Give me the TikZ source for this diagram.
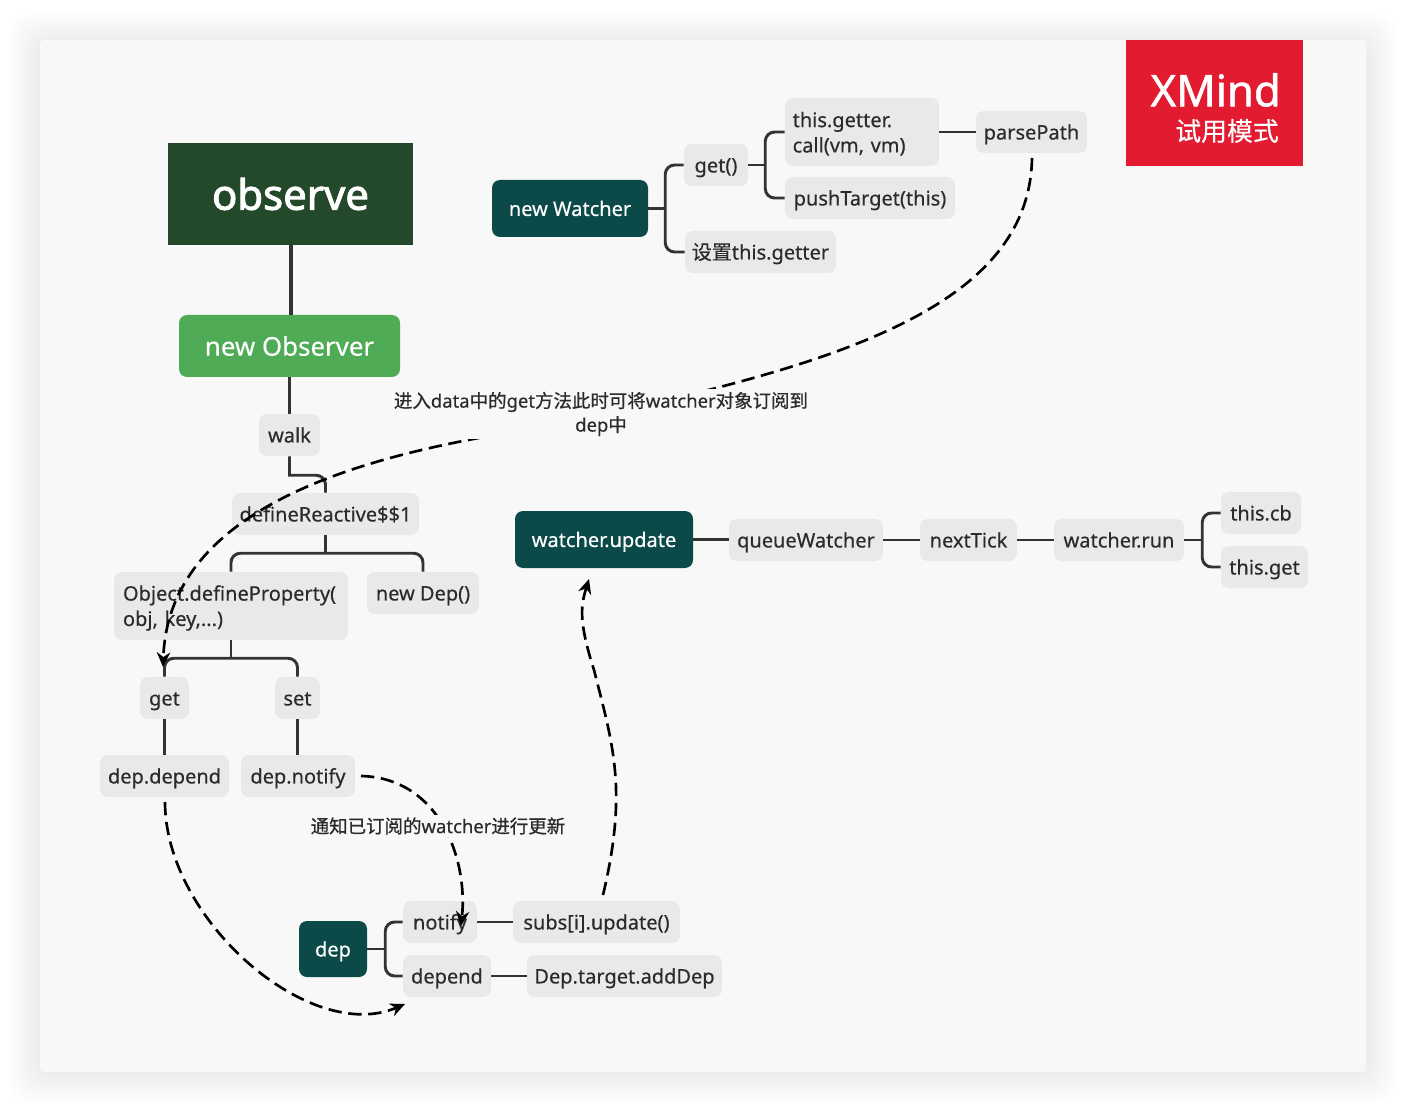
\documentclass[tikz,border=0pt]{standalone}
\usepackage{fontspec}
\setmainfont{Noto Sans}[FakeBold=0.35]
\newfontfamily\cjk{Noto Sans CJK SC}[FakeBold=0.35]
\newfontfamily\cjkl{Noto Sans CJK SC}[FakeBold=0.8]
\newfontfamily\heavy{Noto Sans}[FakeBold=2.2]
\newfontfamily\xmindf{Noto Sans}[FakeBold=1.2]
\usetikzlibrary{arrows.meta}
\definecolor{cardbg}{HTML}{F8F8F8}
\definecolor{topicbg}{HTML}{E9E9E9}
\definecolor{inkc}{HTML}{2B2B2B}
\definecolor{linec}{HTML}{333333}
\definecolor{tealc}{HTML}{0C4A4A}
\definecolor{darkg}{HTML}{23482A}
\definecolor{lightg}{HTML}{4FAB55}
\definecolor{redc}{HTML}{E31B30}
\tikzset{
  topicbase/.style={fill=topicbg,text=inkc,rounded corners=6pt,inner sep=0pt,font=\fontsize{15}{19}\selectfont},
  topic/.style={topicbase,text height=11.8pt,text depth=0.6pt},
  tealbox/.style={fill=tealc,text=white,rounded corners=6pt,inner sep=0pt,text height=11.8pt,text depth=0.6pt,font=\fontsize{15}{19}\selectfont},
  rootbox/.style={fill=darkg,text=white,inner sep=0pt,font=\heavy\fontsize{31.4}{38}\selectfont},
  mainbox/.style={fill=lightg,text=white,rounded corners=6pt,inner sep=0pt,font=\fontsize{19.4}{24}\selectfont},
  conn/.style={draw=linec,line width=2.2pt,rounded corners=7pt},
  thickconn/.style={draw=linec,line width=3pt},
  rel/.style={draw=black,line width=2pt,dash pattern=on 10pt off 5pt,-{Stealth[length=11pt,width=10pt]}},
  note/.style={fill=cardbg,text=inkc,inner sep=2pt,align=center,font=\fontsize{13.85}{18}\selectfont}
}
\newcommand\tn[7]{\node[#2,minimum width={(#5-#3)*0.75pt},minimum height={(#6-#4)*0.75pt}] (#1) at ({(#3+#5)/2},{(#4+#6)/2}) {#7};}
\begin{document}
\begin{tikzpicture}[x=0.75pt,y=-0.75pt]
\useasboundingbox (0,0) rectangle (1406,1112);
% card shadow
\foreach \s in {1,...,20}{
  \fill[black,opacity=0.004,rounded corners=18pt] ({40-1.6*\s},{44-1.6*\s}) rectangle ({1366+1.6*\s},{1072+1.6*\s});
}
\fill[cardbg,rounded corners=3pt] (40,40) rectangle (1366,1072);
% nodes
\tn{observe}{rootbox}{168}{143}{413}{245}{observe}
\tn{newobs}{mainbox}{179}{315}{400}{377}{new Observer}
\tn{walk}{topic}{259}{414}{320}{456}{walk}
\tn{define}{topic}{232}{493}{419}{535}{defineReactive\$\$1}
\tn{object}{topicbase,text width=162pt,align=left}{114}{572}{348}{640}{\rule{0pt}{14.5pt}Object.defineProperty(\\obj, key,...)}
\tn{newdep}{topic}{367}{572}{479}{614}{new Dep()}
\tn{get}{topic}{140}{677}{189}{719}{get}
\tn{set}{topic}{275}{677}{320}{719}{set}
\tn{depdepend}{topic}{100}{755}{229}{797}{dep.depend}
\tn{depnotify}{topic}{241}{755}{355}{797}{dep.notify}
\tn{dep}{tealbox}{299}{921}{367}{977}{dep}
\tn{notify}{topic}{403}{901}{477}{943}{notify}
\tn{depend}{topic}{403}{955}{491}{997}{depend}
\tn{subs}{topic}{513}{901}{680}{943}{subs[i].update()}
\tn{addDep}{topic}{527}{955}{722}{997}{Dep.target.addDep}
\tn{wupdate}{tealbox}{515}{511}{693}{568}{watcher.update}
\tn{queue}{topic}{729}{519}{883}{561}{queueWatcher}
\tn{nexttick}{topic}{920}{519}{1017}{561}{nextTick}
\tn{wrun}{topic}{1054}{519}{1184}{561}{watcher.run}
\tn{thiscb}{topic}{1221}{492}{1301}{534}{this.cb}
\tn{thisget}{topic}{1221}{546}{1308}{588}{this.get}
\tn{newwatcher}{tealbox}{492}{180}{648}{237}{new Watcher}
\tn{getf}{topic}{684}{144}{748}{186}{get()}
\tn{getter}{topicbase,text width=104pt,align=left}{785}{98}{939}{166}{\rule{0pt}{14pt}this.getter.\\call(vm, vm)}
\tn{push}{topic}{785}{177}{955}{219}{pushTarget(this)}
\tn{setgetter}{topic}{685}{231}{836}{273}{{\cjk 设置}this.getter}
\tn{parse}{topic}{976}{111}{1087}{153}{parsePath}
% XMind badge
\fill[redc] (1126,40) rectangle (1303,166);
\node[text=white,inner sep=0pt,anchor=east,font=\xmindf\fontsize{32.7}{38}\selectfont] (xmind) at (1281,90) {XMind};
\node[text=white,inner sep=0pt,anchor=east,font=\cjk\fontsize{19.4}{24}\selectfont] (trial) at (1279,131) {试用模式};
% connectors
\draw[thickconn] (observe.south) -- (observe.south |- newobs.north);
\draw[conn] (newobs.south) -- (newobs.south |- walk.north);
\draw[conn] (walk.south) [sharp corners] -- ++(0,19) [rounded corners=7pt] -| (define.north);
\draw[conn] (define.south) -- ++(0,18) coordinate (j1);
\draw[conn] (object.north) -- (object.north |- j1) -- (newdep.north |- j1) -- (newdep.north);
\draw[conn] (object.south) -- ++(0,18) coordinate (j2);
\draw[conn] (get.north) -- (get.north |- j2) -- (set.north |- j2) -- (set.north);
\draw[conn] (get.south) -- (depdepend.north);
\draw[conn] (set.south) -- (set.south |- depnotify.north);
\draw[conn] (dep.east) -- ++(18,0) coordinate (j3);
\draw[conn] (notify.west) -- (notify.west -| j3) -- (depend.west -| j3) -- (depend.west);
\draw[conn] (notify.east) -- (subs.west);
\draw[conn] (depend.east) -- (addDep.west);
\draw[conn] (wupdate.east) -- (wupdate.east -| queue.west);
\draw[conn] (queue.east) -- (nexttick.west);
\draw[conn] (nexttick.east) -- (wrun.west);
\draw[conn] (wrun.east) -- ++(18,0) coordinate (j4);
\draw[conn] (thiscb.west) -- (thiscb.west -| j4) -- (thisget.west -| j4) -- (thisget.west);
\draw[conn] (newwatcher.east) -- ++(17,0) coordinate (j5);
\draw[conn] (getf.west) -- (getf.west -| j5) -- (setgetter.west -| j5) -- (setgetter.west);
\draw[conn] (getf.east) -- ++(17,0) coordinate (j6);
\draw[conn] (getter.west) -- (getter.west -| j6) -- (push.west -| j6) -- (push.west);
\draw[conn] (getter.east) -- (getter.east -| parse.west);
% relationships
\coordinate (e1) at (163,667);
\coordinate (s3) at (165,802);
\coordinate (e3) at (405,1004);
\coordinate (s2) at (361,776);
\coordinate (e2) at (461,926);
\coordinate (s4) at (603,895);
\coordinate (e4) at (589,579);
\coordinate (p1) at (1032,158);
\draw[rel] (p1) .. controls (1030,280) and (900,340) .. (720,387)
  .. controls (640,408) and (560,423) .. (484,437)
  .. controls (330,465) and (168,520) .. (e1);
\draw[rel] (s2) .. controls (440,778) and (468,860) .. (e2);
\draw[rel] (s3) .. controls (165,920) and (310,1045) .. (e3);
\draw[rel] (s4) .. controls (628,790) and (613,745) .. (594,670)
  .. controls (578,620) and (581,605) .. (e4);
% labels
\node[note] (note1) at (601,414) {{\cjkl 进入}data{\cjkl 中的}get{\cjkl 方法此时可将}watcher{\cjkl 对象订阅到}\\dep{\cjkl 中}};
\node[note] (note2) at (438,826) {{\cjkl 通知已订阅的}watcher{\cjkl 进行更新}};
\end{tikzpicture}
\end{document}
